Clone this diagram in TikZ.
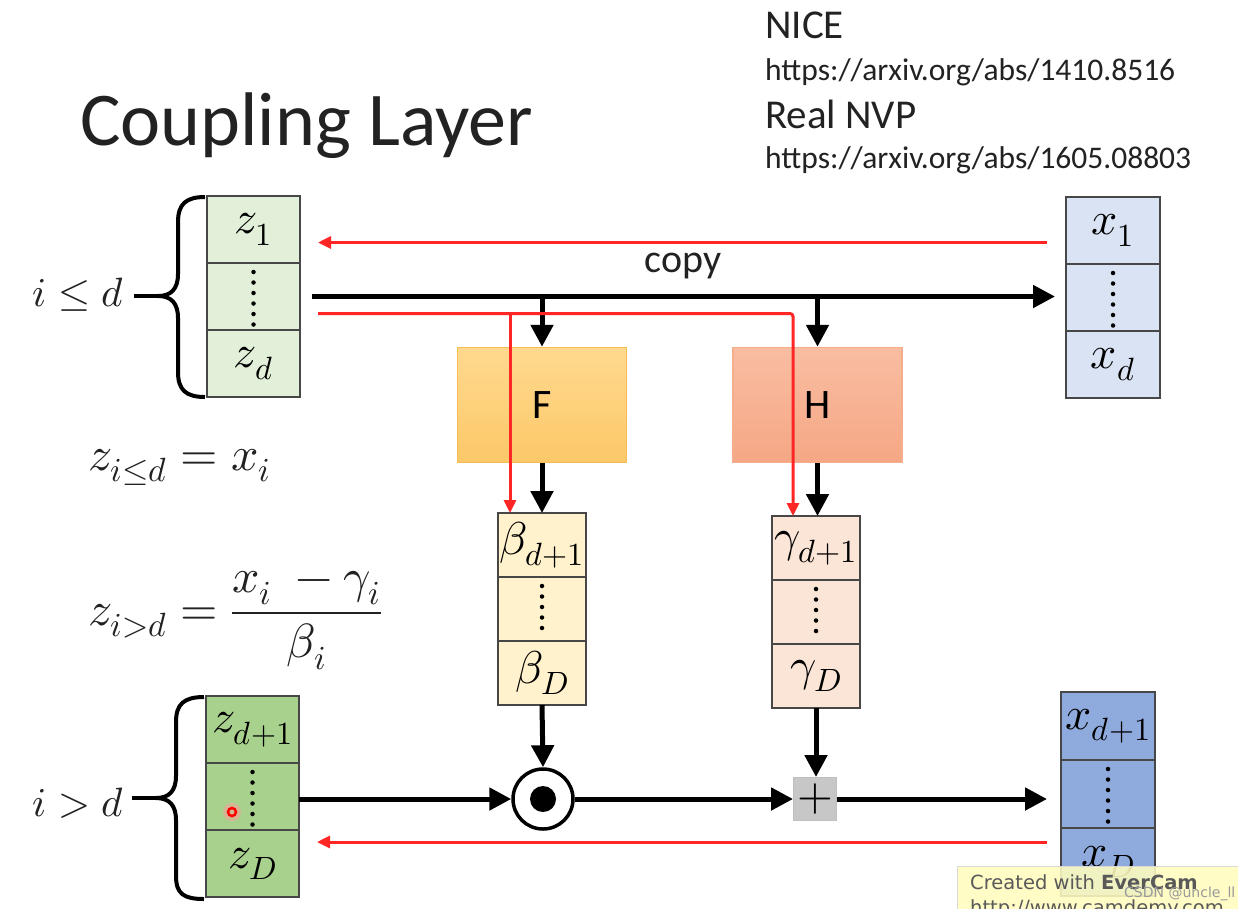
\documentclass[tikz,border=0pt]{standalone}
\usepackage{fontspec}
\usepackage{unicode-math}
\setmainfont{Carlito}
\newfontfamily\wmfont{DejaVu Sans}
\usetikzlibrary{arrows.meta,calc}
\definecolor{gA}{HTML}{E2EFD9}
\definecolor{gB}{HTML}{A9D18E}
\definecolor{bA}{HTML}{DAE3F3}
\definecolor{bB}{HTML}{8FAADC}
\definecolor{yA}{HTML}{FFF2CC}
\definecolor{pA}{HTML}{FBE5D6}
\definecolor{fTop}{HTML}{FFD98F}
\definecolor{fBot}{HTML}{FCC868}
\definecolor{fLine}{HTML}{F7BD55}
\definecolor{hTop}{HTML}{F9BDA2}
\definecolor{hBot}{HTML}{F5A784}
\definecolor{hLine}{HTML}{F5AE8C}
\definecolor{redl}{HTML}{FF2626}
\definecolor{txt}{HTML}{222222}
\tikzset{
  cell/.style={draw=black!72, line width=1.6pt, inner sep=0pt, outer sep=0pt,
    font=\fontsize{46}{50}\selectfont},
  dotline/.style={line width=4.5pt, line cap=round, dash pattern=on 0pt off 10.5pt},
  blk/.style={line width=5pt, -{Triangle[length=22pt,width=22pt]}},
  redarr/.style={draw=redl, line width=3pt, -{Triangle[length=13pt,width=12pt]}},
  brace/.style={line width=4pt, line join=round},
  bigbox/.style={line width=1.5pt, minimum width=169pt, minimum height=115pt,
    inner sep=0pt, font=\fontsize{42}{48}\selectfont},
  lbl/.style={inner sep=0pt, text=txt},
  wmtext/.style={anchor=base west, inner sep=0pt, text=black!65, font=\wmfont\fontsize{19.5}{22}\selectfont},
}
\begin{document}
\begin{tikzpicture}[x=1pt,y=-1pt]
\clip (0,0) rectangle (1238,908);
\fill[white] (0,0) rectangle (1238,908);

% headings
\node[lbl, anchor=base west, font=\fontsize{76}{80}\selectfont] (title) at (80,145) {Coupling Layer};
\node[lbl, anchor=base west, font=\fontsize{41}{44}\selectfont] (nice) at (765,38) {NICE};
\node[lbl, anchor=base west, font=\fontsize{31.5}{34}\selectfont] (url1) at (765,80) {https://arxiv.org/abs/1410.8516};
\node[lbl, anchor=base west, font=\fontsize{41}{44}\selectfont] (nvp) at (765,128) {Real NVP};
\node[lbl, anchor=base west, font=\fontsize{31.5}{34}\selectfont] (url2) at (765,168) {https://arxiv.org/abs/1605.08803};

% top-left z block
\node[cell, fill=gA, minimum width=93pt, minimum height=67pt] (z1) at (253.5,229.5) {$z_1$};
\node[cell, fill=gA, minimum width=93pt, minimum height=67pt] (zm) at (253.5,296.5) {};
\node[cell, fill=gA, minimum width=93pt, minimum height=67pt] (zd) at (253.5,363.5) {$z_d$};
\draw[dotline] ($(zm.north)+(0,9)$) -- ($(zm.south)+(0,-5)$);

% top-right x block
\node[cell, fill=bA, minimum width=94pt, minimum height=67pt] (x1) at (1113,230.5) {$x_1$};
\node[cell, fill=bA, minimum width=94pt, minimum height=67pt] (xm) at (1113,297.5) {};
\node[cell, fill=bA, minimum width=94pt, minimum height=67pt] (xd) at (1113,364.5) {$x_d$};
\draw[dotline] ($(xm.north)+(0,9)$) -- ($(xm.south)+(0,-5)$);

% bottom-left z block
\node[cell, fill=gB, minimum width=93pt, minimum height=67pt] (za) at (252.5,729.5) {$z_{d+1}$};
\node[cell, fill=gB, minimum width=93pt, minimum height=67pt] (zb) at (252.5,796.5) {};
\node[cell, fill=gB, minimum width=93pt, minimum height=67pt] (zc) at (252.5,863.5) {$z_D$};
\draw[dotline] ($(zb.north)+(0,9)$) -- ($(zb.south)+(0,-5)$);

% bottom-right x block
\node[cell, fill=bB, minimum width=94pt, minimum height=68pt] (xa) at (1108,726) {$x_{d+1}$};
\node[cell, fill=bB, minimum width=94pt, minimum height=68pt] (xb) at (1108,794) {};
\node[cell, fill=bB, minimum width=94pt, minimum height=68pt] (xc) at (1108,862) {$x_D$};
\draw[dotline] ($(xb.north)+(0,9)$) -- ($(xb.south)+(0,-5)$);

% beta block
\node[cell, fill=yA, minimum width=88pt, minimum height=64pt] (b1) at (542,545) {$\beta_{d+1}$};
\node[cell, fill=yA, minimum width=88pt, minimum height=64pt] (bm) at (542,609) {};
\node[cell, fill=yA, minimum width=88pt, minimum height=64pt] (bD) at (542,673) {$\beta_D$};
\draw[dotline] ($(bm.north)+(0,9)$) -- ($(bm.south)+(0,-5)$);

% gamma block
\node[cell, fill=pA, minimum width=88pt, minimum height=64pt] (g1) at (816,548) {$\gamma_{d+1}$};
\node[cell, fill=pA, minimum width=88pt, minimum height=64pt] (gm) at (816,612) {};
\node[cell, fill=pA, minimum width=88pt, minimum height=64pt] (gD) at (816,676) {$\gamma_D$};
\draw[dotline] ($(gm.north)+(0,9)$) -- ($(gm.south)+(0,-5)$);

% F and H
\node[bigbox, draw=fLine, top color=fTop, bottom color=fBot] (F) at (542,405) {F};
\node[bigbox, draw=hLine, top color=hTop, bottom color=hBot] (H) at (817.5,405) {H};

% odot and plus
\node[circle, draw, line width=3.5pt, minimum size=60pt, inner sep=0pt, fill=white] (odot) at (543,799) {};
\fill (odot.center) circle (13pt);
\node[draw=black!25, line width=1pt, fill=black!22, minimum size=43pt, inner sep=0pt,
  font=\fontsize{46}{46}\selectfont] (plus) at (815,799) {$+$};

% black connectors
\draw[blk] ([xshift=12pt]zm.east) -- ([xshift=-11pt]zm.east -| xm.west);
\node[lbl, anchor=base, font=\fontsize{40}{44}\selectfont] (copy) at (683,272) {copy};
\draw[blk] (F.north |- zm.east) -- (F.north);
\draw[blk] (H.north |- zm.east) -- (H.north);
\draw[blk] (F.south) -- (b1.north);
\draw[blk] (H.south) -- (H.south |- g1.north);
\draw[blk] (bD.south) -- (odot.north);
\draw[blk] (gD.south) -- (gD.south |- plus.north);
\draw[blk] (zb.east |- odot) -- (odot.west);
\draw[blk] (odot.east) -- (plus.west);
\draw[blk] (plus.east) -- ([xshift=-14pt]plus -| xb.west);

% red connectors
\coordinate (rt1) at ([xshift=-19pt,yshift=-12pt]x1.west);
\draw[redarr] (rt1) -- ([xshift=18pt]rt1 -| z1.east);
\coordinate (rm0) at ([xshift=18pt,yshift=-17pt]zm.east);
\draw[redarr, rounded corners=3pt] (rm0) -| ([xshift=-23pt]g1.north);
\draw[redarr] ([xshift=-32pt]b1.north |- rm0) -- ([xshift=-32pt]b1.north);
\coordinate (rb1) at ([xshift=-14pt,yshift=20pt]xc.west);
\draw[redarr] (rb1) -- ([xshift=18pt]rb1 -| zc.east);

% braces
\draw[brace] (205,197) .. controls (186,197) and (178,204) .. (178,222) -- (178,274)
  .. controls (178,289) and (171,296) .. (158,296)
  .. controls (171,296) and (178,303) .. (178,318) -- (178,372)
  .. controls (178,390) and (186,397) .. (205,397);
\draw[brace] (158,296) -- (134,296);
\draw[brace] (204,697) .. controls (184,697) and (176,704) .. (176,722) -- (176,776)
  .. controls (176,791) and (169,798) .. (156,798)
  .. controls (169,798) and (176,805) .. (176,820) -- (176,876)
  .. controls (176,894) and (184,899) .. (204,899);
\draw[brace] (156,798) -- (132,798);
\node[lbl, anchor=base east, font=\fontsize{41}{44}\selectfont] (le) at (124,306) {$i\le d$};
\node[lbl, anchor=base east, font=\fontsize{41}{44}\selectfont] (gt) at (124,816) {$i>d$};

% equations
\node[lbl, anchor=base west, font=\fontsize{48}{54}\selectfont] (eq1) at (88,470) {$z_{i\le d}=x_i$};
\node[lbl, anchor=base west, font=\fontsize{48}{54}\selectfont] (eq2) at (88,625)
  {$\displaystyle z_{i>d}=\frac{x_i\;-\gamma_i}{\beta_i}$};

% cursor marker
\fill[red!40, opacity=0.5] (232,812) circle (9pt);
\draw[red, line width=2.5pt] (232,812) circle (4pt);

% watermark
\node[draw=black!15, fill=yellow!25, fill opacity=0.88, anchor=north west,
  minimum width=290pt, minimum height=50pt, inner sep=0pt] (wm) at (957,866) {};
\node[wmtext] (wm1) at (970,889) {Created with \textbf{EverCam}};
\node[wmtext] (wm2) at (970,914) {http://www.camdemy.com};
\node[anchor=base west, inner sep=0pt, text=black!40, font=\wmfont\fontsize{14}{16}\selectfont] (csdn) at (1124,897)
  {CSDN @uncle\_ll};
\end{tikzpicture}
\end{document}
